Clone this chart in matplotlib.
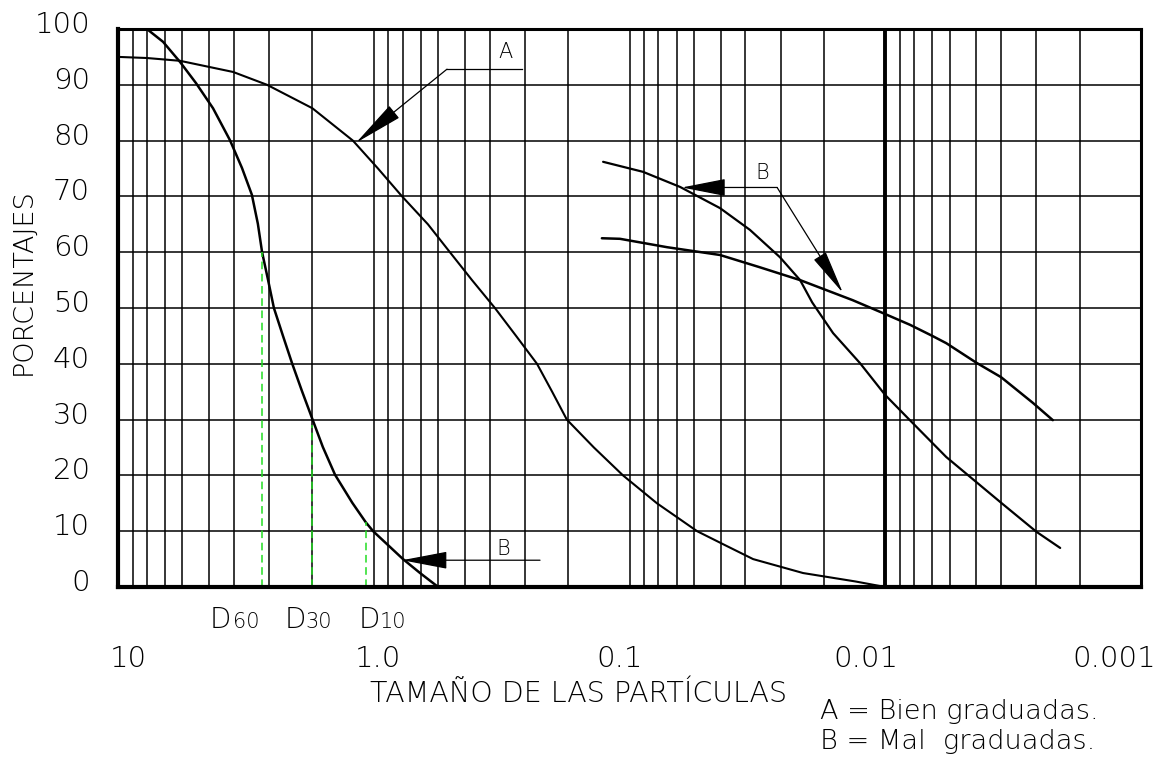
import numpy as np
import matplotlib.pyplot as plt
import matplotlib.transforms as mtransforms

plt.rcParams['font.family'] = ['DejaVu Sans']
plt.rcParams['font.weight'] = 'light'

# Curva A: suelo bien graduado
size_a = [10, 8.0, 6.14, 4.03, 3.06, 2.0, 1.34, 0.971, 0.804, 0.659, 0.556,
          0.471, 0.385, 0.325, 0.272, 0.237, 0.203, 0.158, 0.1106, 0.081,
          0.0588, 0.0482, 0.0378, 0.0248, 0.0149, 0.010]
pct_a = [95, 94.8, 94.3, 92.3, 90, 85.8, 80, 75, 70, 65, 60,
         55, 50, 45, 40, 35, 30, 25, 20, 15,
         10, 7.5, 5, 2.5, 1, 0]

# Curvas B: suelos mal graduados
size_b1 = [8.0, 7.11, 6.14, 5.49, 4.84, 4.16, 3.77, 3.49, 3.32, 3.2, 3.03, 2.89,
           2.68, 2.47, 2.24, 2.0, 1.83, 1.63, 1.35, 1.13, 1.01, 0.798, 0.704, 0.60]
pct_b1 = [100, 97.7, 94.1, 90.3, 85.8, 80.1, 75.1, 70.3, 65.1, 60, 55, 50,
          45, 40.1, 35.1, 30.1, 25.1, 20.1, 15.1, 11.6, 10, 5, 2.5, 0]

size_b2 = [0.143, 0.0907, 0.068, 0.0502, 0.0387, 0.0302, 0.0255, 0.0227,
           0.0185, 0.0141, 0.010, 0.0083, 0.0062, 0.0040, 0.0030, 0.00245]
pct_b2 = [76.2, 74.4, 71.7, 67.9, 64, 59.1, 55, 51,
          45.5, 40.1, 34.4, 29.9, 23.3, 15.1, 9.9, 7.0]

size_b3 = [0.145, 0.1155, 0.0753, 0.0502, 0.0359, 0.0255, 0.0153,
           0.0104, 0.0083, 0.0070, 0.0062, 0.0050, 0.0040, 0.0031, 0.00262]
pct_b3 = [62.5, 62.4, 60.9, 59.5, 57.3, 55, 51.4,
          49.1, 47, 45, 43.7, 40.2, 37.6, 33, 29.9]

# Diametros efectivos de la curva B uniforme
d_sizes = [3.2, 2.0, 1.13]
d_pct = [60, 29, 11.6]
d_names = ["60", "30", "10"]

x_ticks = [10, 1, 0.1, 0.01, 0.001]
x_labels = ["10", "1.0", "0.1", "0.01", "0.001"]
y_ticks = list(range(0, 101, 10))

# reparto de las lineas dentro de cada decada en el papel semilogaritmico
mant = np.arange(1, 11, dtype=float)
frac = np.array([1.0, 0.760, 0.591, 0.453, 0.356, 0.252, 0.184, 0.113, 0.057, 0.0])


def fwd(v):
    v = np.clip(np.asarray(v, dtype=float), 1e-9, None)
    e = np.floor(np.log10(v) + 1e-12)
    m = v / 10.0 ** e
    return e - np.interp(m, mant, frac)


def inv(y):
    y = np.asarray(y, dtype=float)
    k = np.floor(y)
    g = 1 - (y - k)
    m = np.interp(g, frac[::-1], mant[::-1])
    return m * 10.0 ** (k + 1)


fig = plt.figure(figsize=(11.73, 7.59), dpi=100)
ax = fig.add_axes([118 / 1173, 1 - 587 / 759, 1023 / 1173, 558 / 759])
ax.set_xscale('function', functions=(fwd, inv))
ax.set_xlim(10, 0.001)
ax.set_ylim(0, 100)

minor = [m * 10.0 ** e for e in range(-3, 1) for m in range(2, 10)]
ax.set_xticks(x_ticks, labels=x_labels)
ax.set_xticks(minor, minor=True)
ax.set_yticks(y_ticks, labels=[str(t) for t in y_ticks])
ax.grid(True, which='both', color='black', lw=1.1)
ax.tick_params(which='both', length=0)
ax.tick_params(axis='x', pad=42, labelsize=21)
ax.tick_params(axis='y', pad=20, labelsize=21)
ax.axvline(0.01, color='black', lw=2.8)

for side, w in [('left', 3.0), ('bottom', 3.0), ('top', 2.2), ('right', 2.2)]:
    ax.spines[side].set_linewidth(w)

# desplazamiento de las etiquetas de los ejes (en pixeles)
for lbl, dx in zip(ax.get_xticklabels(), [10, 4, -10, -19, -27]):
    lbl.set_transform(lbl.get_transform() +
                      mtransforms.ScaledTranslation(dx / 100, 0, fig.dpi_scale_trans))
for lbl in ax.get_yticklabels():
    lbl.set_transform(lbl.get_transform() +
                      mtransforms.ScaledTranslation(0, 0.07, fig.dpi_scale_trans))

line_kw = dict(color='black', solid_joinstyle='round', solid_capstyle='round')
ax.plot(size_a, pct_a, lw=1.5, **line_kw)
ax.plot(size_b1, pct_b1, lw=1.8, **line_kw)
ax.plot(size_b2, pct_b2, lw=1.6, **line_kw)
ax.plot(size_b3, pct_b3, lw=1.8, **line_kw)

ax.vlines(d_sizes, 0, d_pct, colors='#22dd22', linestyles=(0, (5, 3)), lw=1.1)

head = "-|>,head_length={},head_width={}"
arrow_kw = dict(color='black', lw=0.9, shrinkA=0, shrinkB=0, mutation_scale=10)

# A
ax.plot([0.308, 0.567], [92.8, 92.8], color='black', lw=0.9)
ax.annotate("", xy=(1.29, 79.6), xytext=(0.567, 92.8),
            arrowprops=dict(arrowstyle=head.format(3.2, 0.5), **arrow_kw))
ax.text(0.356, 95.9, "A", fontsize=15, ha='center', va='center')

# B (curvas de la derecha)
ax.annotate("", xy=(0.0669, 71.6), xytext=(0.031, 71.6),
            arrowprops=dict(arrowstyle=head.format(2.8, 0.55), **arrow_kw))
ax.annotate("", xy=(0.0169, 52.7), xytext=(0.031, 71.6),
            arrowprops=dict(arrowstyle=head.format(2.8, 0.45), **arrow_kw))
ax.text(0.0353, 74.2, "B", fontsize=15, ha='center', va='center')

# B (curva de la izquierda)
ax.annotate("", xy=(0.804, 4.8), xytext=(0.265, 4.8),
            arrowprops=dict(arrowstyle=head.format(2.9, 0.55), **arrow_kw))
ax.text(0.362, 6.8, "B", fontsize=15, ha='center', va='center')

# D60, D30, D10
for xd, xn, name in zip([210, 285, 359], [233, 305, 380], d_names):
    fig.text(xd / 1173, 1 - 628 / 759, "D", fontsize=20, va='baseline', ha='left')
    fig.text(xn / 1173, 1 - 628 / 759, name, fontsize=15, va='baseline', ha='left')

fig.text(23 / 1173, 1 - 282 / 759, "PORCENTAJES", fontsize=19.5, rotation=90,
         ha='center', va='center')
fig.text(579 / 1173, 1 - 694 / 759, "TAMAÑO DE LAS PARTÍCULAS", fontsize=20.5,
         ha='center', va='center')
fig.text(820 / 1173, 1 - 712 / 759, "A = Bien graduadas.", fontsize=19.5,
         ha='left', va='center')
fig.text(820 / 1173, 1 - 741 / 759, "B = Mal  graduadas.", fontsize=19.5,
         ha='left', va='center')

fig.savefig("out.png", dpi=100)
